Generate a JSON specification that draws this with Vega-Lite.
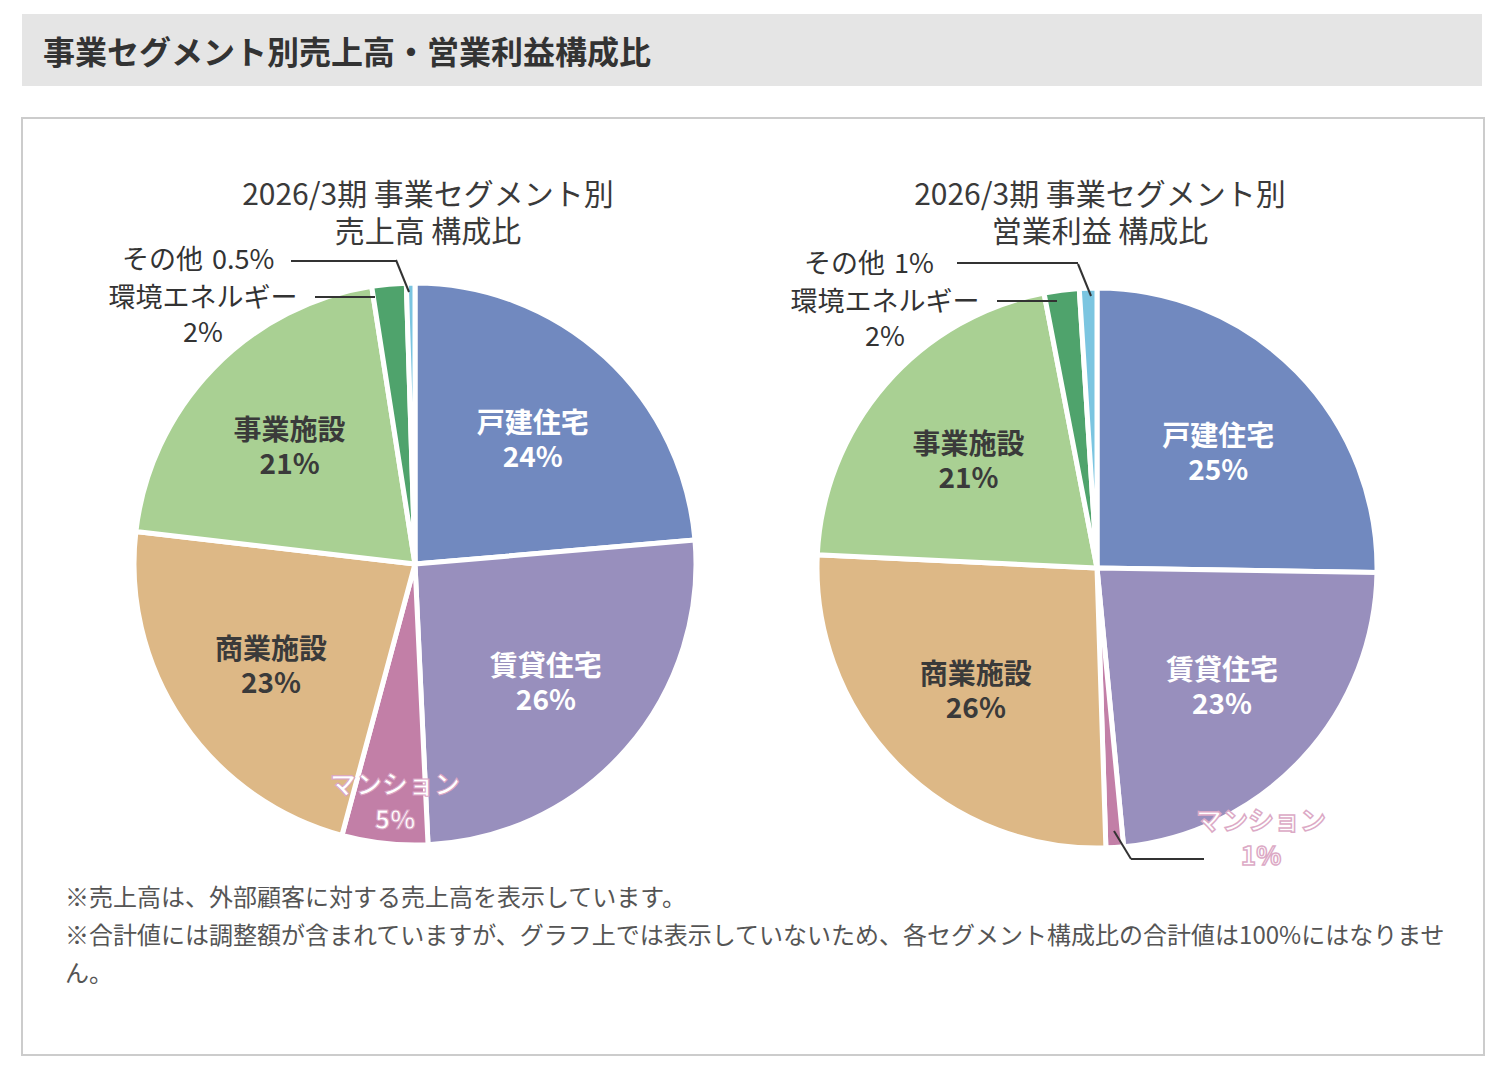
{
  "$schema": "https://vega.github.io/schema/vega-lite/v6.json",
  "padding": {"left": 21, "top": 14, "right": 25, "bottom": 22},
  "background": "#ffffff",
  "spacing": 31,
  "config": {
    "font": "Noto Sans CJK JP",
    "axis": {"disable": true},
    "legend": {"disable": true},
    "title": {"font": "Noto Sans CJK JP"}
  },
  "vconcat": [
    {
      "width": 1460,
      "height": 72,
      "view": {"fill": "#e5e5e5", "stroke": null},
      "title": {
        "text": "事業セグメント別売上高・営業利益構成比",
        "orient": "top",
        "anchor": "start",
        "frame": "group",
        "offset": -72,
        "dx": 21,
        "baseline": "middle",
        "fontSize": 32,
        "fontWeight": "bold",
        "color": "#333333"
      },
      "data": {"values": [{}]},
      "mark": {"type": "rect", "color": "#e5e5e5"}
    },
    {
      "width": 1462,
      "height": 937,
      "view": {"stroke": "#cccccc", "strokeWidth": 2},
      "title": {
        "text": [
          "※売上高は、外部顧客に対する売上高を表示しています。",
          "※合計値には調整額が含まれていますが、グラフ上では表示していないため、各セグメント構成比の合計値は100%にはなりませ",
          "ん。"
        ],
        "orient": "bottom",
        "anchor": "start",
        "frame": "group",
        "offset": -168,
        "dx": 43,
        "baseline": "top",
        "fontSize": 24,
        "fontWeight": "normal",
        "color": "#555555",
        "lineHeight": 38
      },
      "data": {
        "values": [
          {"chart": "売上高", "seg": "戸建住宅", "value": 24, "pct": "24%"},
          {"chart": "売上高", "seg": "賃貸住宅", "value": 26, "pct": "26%"},
          {"chart": "売上高", "seg": "マンション", "value": 5, "pct": "5%"},
          {"chart": "売上高", "seg": "商業施設", "value": 23, "pct": "23%"},
          {"chart": "売上高", "seg": "事業施設", "value": 21, "pct": "21%"},
          {"chart": "売上高", "seg": "環境エネルギー", "value": 2, "pct": "2%"},
          {"chart": "売上高", "seg": "その他", "value": 0.5, "pct": "0.5%"},
          {"chart": "営業利益", "seg": "戸建住宅", "value": 25, "pct": "25%"},
          {"chart": "営業利益", "seg": "賃貸住宅", "value": 23, "pct": "23%"},
          {"chart": "営業利益", "seg": "マンション", "value": 1, "pct": "1%"},
          {"chart": "営業利益", "seg": "商業施設", "value": 26, "pct": "26%"},
          {"chart": "営業利益", "seg": "事業施設", "value": 21, "pct": "21%"},
          {"chart": "営業利益", "seg": "環境エネルギー", "value": 2, "pct": "2%"},
          {"chart": "営業利益", "seg": "その他", "value": 1, "pct": "1%"}
        ]
      },
      "transform": [
        {"window": [{"op": "row_number", "as": "rank"}], "groupby": ["chart"]}
      ],
      "resolve": {"scale": {"radius": "independent"}},
      "layer": [
        {
          "mark": {"type": "arc", "stroke": "#ffffff", "strokeWidth": 5, "strokeJoin": "round"},
          "encoding": {
            "x": {"field": "chart", "type": "nominal", "scale": {"type": "point", "domain": ["売上高", "営業利益"], "range": [393, 1075], "padding": 0}, "axis": null},
            "y": {"field": "chart", "type": "nominal", "scale": {"type": "point", "domain": ["売上高", "営業利益"], "range": [446, 450], "padding": 0}, "axis": null},
            "theta": {"field": "value", "type": "quantitative", "stack": "normalize"},
            "order": {"field": "rank", "type": "quantitative"},
            "radius": {"field": "chart", "type": "nominal", "scale": {"type": "point", "domain": ["売上高", "営業利益"], "range": [281, 280], "padding": 0}},
            "radius2": {"value": 0},
            "color": {
              "field": "seg",
              "type": "nominal",
              "scale": {
                "domain": ["戸建住宅", "賃貸住宅", "マンション", "商業施設", "事業施設", "環境エネルギー", "その他"],
                "range": ["#7189BF", "#988FBD", "#C27FA7", "#DDB886", "#A9D093", "#4FA36C", "#7BC5E0"]
              },
              "legend": null
            }
          }
        },
        {
          "mark": {"type": "text", "fontSize": 28, "fontWeight": "bold", "dy": -11, "align": "center", "baseline": "middle"},
          "encoding": {
            "x": {"field": "chart", "type": "nominal"},
            "y": {"field": "chart", "type": "nominal"},
            "theta": {"field": "value", "type": "quantitative", "stack": "normalize"},
            "order": {"field": "rank", "type": "quantitative"},
            "radius": {"field": "chart", "type": "nominal", "scale": {"type": "point", "domain": ["売上高", "営業利益"], "range": [174, 170], "padding": 0}},
            "text": {"condition": {"test": "datum.seg === '戸建住宅' || datum.seg === '賃貸住宅' || datum.seg === '商業施設' || datum.seg === '事業施設'", "field": "seg"}, "value": ""},
            "color": {"condition": {"test": "datum.seg === '商業施設' || datum.seg === '事業施設'", "value": "#3a3a3a"}, "value": "#ffffff"}
          }
        },
        {
          "mark": {"type": "text", "fontSize": 28, "fontWeight": "bold", "dy": 23, "align": "center", "baseline": "middle"},
          "encoding": {
            "x": {"field": "chart", "type": "nominal"},
            "y": {"field": "chart", "type": "nominal"},
            "theta": {"field": "value", "type": "quantitative", "stack": "normalize"},
            "order": {"field": "rank", "type": "quantitative"},
            "radius": {"field": "chart", "type": "nominal", "scale": {"type": "point", "domain": ["売上高", "営業利益"], "range": [174, 170], "padding": 0}},
            "text": {"condition": {"test": "datum.seg === '戸建住宅' || datum.seg === '賃貸住宅' || datum.seg === '商業施設' || datum.seg === '事業施設'", "field": "pct"}, "value": ""},
            "color": {"condition": {"test": "datum.seg === '商業施設' || datum.seg === '事業施設'", "value": "#3a3a3a"}, "value": "#ffffff"}
          }
        },
        {
          "data": {"values": [{"chart": "売上高", "title": "2026/3期 事業セグメント別\n売上高 構成比"}]},
          "mark": {"type": "text", "lineBreak": "\n", "lineHeight": 37, "fontSize": 30, "color": "#3a3a3a", "dx": 13, "dy": -368, "align": "center", "baseline": "middle"},
          "encoding": {
            "x": {"field": "chart", "type": "nominal"},
            "y": {"field": "chart", "type": "nominal"},
            "text": {"field": "title"}
          }
        },
        {
          "data": {"values": [{"chart": "営業利益", "title": "2026/3期 事業セグメント別\n営業利益 構成比"}]},
          "mark": {"type": "text", "lineBreak": "\n", "lineHeight": 37, "fontSize": 30, "color": "#3a3a3a", "dx": 3, "dy": -372, "align": "center", "baseline": "middle"},
          "encoding": {
            "x": {"field": "chart", "type": "nominal"},
            "y": {"field": "chart", "type": "nominal"},
            "text": {"field": "title"}
          }
        },
        {
          "transform": [{"filter": "datum.seg === 'その他'"}],
          "mark": {"type": "text", "align": "left", "baseline": "middle", "dx": -293, "dy": -303, "fontSize": 27, "color": "#333333"},
          "encoding": {
            "x": {"field": "chart", "type": "nominal"},
            "y": {"field": "chart", "type": "nominal"},
            "text": {"field": "seg"}
          }
        },
        {
          "transform": [{"filter": "datum.seg === 'その他'"}],
          "mark": {"type": "text", "align": "left", "baseline": "middle", "dx": -203, "dy": -303, "fontSize": 27, "color": "#333333"},
          "encoding": {
            "x": {"field": "chart", "type": "nominal"},
            "y": {"field": "chart", "type": "nominal"},
            "text": {"field": "pct"}
          }
        },
        {
          "transform": [{"filter": "datum.seg === '環境エネルギー'"}],
          "mark": {"type": "text", "align": "center", "baseline": "middle", "dx": -212, "dy": -265, "fontSize": 27, "color": "#333333"},
          "encoding": {
            "x": {"field": "chart", "type": "nominal"},
            "y": {"field": "chart", "type": "nominal"},
            "text": {"field": "seg"}
          }
        },
        {
          "transform": [{"filter": "datum.seg === '環境エネルギー'"}],
          "mark": {"type": "text", "align": "center", "baseline": "middle", "dx": -212, "dy": -230, "fontSize": 27, "color": "#333333"},
          "encoding": {
            "x": {"field": "chart", "type": "nominal"},
            "y": {"field": "chart", "type": "nominal"},
            "text": {"field": "pct"}
          }
        },
        {
          "transform": [{"filter": "datum.seg === 'マンション' && datum.chart === '売上高'"}],
          "mark": {"type": "text", "align": "center", "baseline": "middle", "dx": -20, "dy": 222, "fontSize": 26, "fontWeight": "bold", "fill": "#ffffff", "stroke": "#d9a3c3", "strokeWidth": 1},
          "encoding": {
            "x": {"field": "chart", "type": "nominal"},
            "y": {"field": "chart", "type": "nominal"},
            "text": {"field": "seg"}
          }
        },
        {
          "transform": [{"filter": "datum.seg === 'マンション' && datum.chart === '売上高'"}],
          "mark": {"type": "text", "align": "center", "baseline": "middle", "dx": -20, "dy": 257, "fontSize": 26, "fontWeight": "bold", "fill": "#ffffff", "stroke": "#d9a3c3", "strokeWidth": 1},
          "encoding": {
            "x": {"field": "chart", "type": "nominal"},
            "y": {"field": "chart", "type": "nominal"},
            "text": {"field": "pct"}
          }
        },
        {
          "transform": [{"filter": "datum.seg === 'マンション' && datum.chart === '営業利益'"}],
          "mark": {"type": "text", "align": "center", "baseline": "middle", "dx": 164, "dy": 254, "fontSize": 26, "fontWeight": "bold", "fill": "#ffffff", "stroke": "#dcaac6", "strokeWidth": 1.5},
          "encoding": {
            "x": {"field": "chart", "type": "nominal"},
            "y": {"field": "chart", "type": "nominal"},
            "text": {"field": "seg"}
          }
        },
        {
          "transform": [{"filter": "datum.seg === 'マンション' && datum.chart === '営業利益'"}],
          "mark": {"type": "text", "align": "center", "baseline": "middle", "dx": 164, "dy": 289, "fontSize": 26, "fontWeight": "bold", "fill": "#ffffff", "stroke": "#dcaac6", "strokeWidth": 1.5},
          "encoding": {
            "x": {"field": "chart", "type": "nominal"},
            "y": {"field": "chart", "type": "nominal"},
            "text": {"field": "pct"}
          }
        },
        {
          "transform": [{"filter": "datum.seg === 'その他' && datum.chart === '売上高'"}],
          "mark": {"type": "rule", "color": "#333333", "strokeWidth": 2, "xOffset": -124, "x2Offset": -19, "yOffset": -303, "y2Offset": -303},
          "encoding": {
            "x": {"field": "chart", "type": "nominal"},
            "x2": {"field": "chart"},
            "y": {"field": "chart", "type": "nominal"},
            "y2": {"field": "chart"}
          }
        },
        {
          "transform": [{"filter": "datum.seg === 'その他' && datum.chart === '営業利益'"}],
          "mark": {"type": "rule", "color": "#333333", "strokeWidth": 2, "xOffset": -140, "x2Offset": -19, "yOffset": -305, "y2Offset": -305},
          "encoding": {
            "x": {"field": "chart", "type": "nominal"},
            "x2": {"field": "chart"},
            "y": {"field": "chart", "type": "nominal"},
            "y2": {"field": "chart"}
          }
        },
        {
          "transform": [{"filter": "datum.seg === 'その他'"}],
          "mark": {"type": "rule", "color": "#333333", "strokeWidth": 2, "xOffset": -19, "x2Offset": -6, "yOffset": -304, "y2Offset": -272},
          "encoding": {
            "x": {"field": "chart", "type": "nominal"},
            "x2": {"field": "chart"},
            "y": {"field": "chart", "type": "nominal"},
            "y2": {"field": "chart"}
          }
        },
        {
          "transform": [{"filter": "datum.seg === '環境エネルギー'"}],
          "mark": {"type": "rule", "color": "#333333", "strokeWidth": 2, "xOffset": -100, "x2Offset": -40, "yOffset": -267, "y2Offset": -267},
          "encoding": {
            "x": {"field": "chart", "type": "nominal"},
            "x2": {"field": "chart"},
            "y": {"field": "chart", "type": "nominal"},
            "y2": {"field": "chart"}
          }
        },
        {
          "transform": [{"filter": "datum.seg === 'マンション' && datum.chart === '営業利益'"}],
          "mark": {"type": "rule", "color": "#333333", "strokeWidth": 2, "xOffset": 17, "x2Offset": 34, "yOffset": 263, "y2Offset": 291},
          "encoding": {
            "x": {"field": "chart", "type": "nominal"},
            "x2": {"field": "chart"},
            "y": {"field": "chart", "type": "nominal"},
            "y2": {"field": "chart"}
          }
        },
        {
          "transform": [{"filter": "datum.seg === 'マンション' && datum.chart === '営業利益'"}],
          "mark": {"type": "rule", "color": "#333333", "strokeWidth": 2, "xOffset": 34, "x2Offset": 107, "yOffset": 291, "y2Offset": 291},
          "encoding": {
            "x": {"field": "chart", "type": "nominal"},
            "x2": {"field": "chart"},
            "y": {"field": "chart", "type": "nominal"},
            "y2": {"field": "chart"}
          }
        }
      ]
    }
  ]
}
